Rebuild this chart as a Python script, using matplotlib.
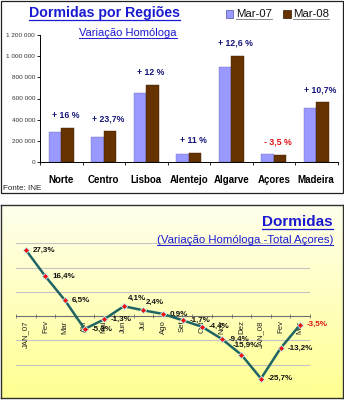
import numpy as np
import matplotlib
matplotlib.use('Agg')
import matplotlib.pyplot as plt
from matplotlib.patches import Rectangle
from matplotlib.lines import Line2D
from matplotlib.ticker import FuncFormatter, FixedLocator

plt.rcParams.update({
    "font.family": ["Liberation Sans", "DejaVu Sans"],
})

# dados - dormidas por regiões
regioes = ["Norte", "Centro", "Lisboa", "Alentejo", "Algarve", "Açores", "Madeira"]
mar07 = [282000, 241000, 648000, 78000, 893000, 75000, 514000]
mar08 = [326000, 294000, 727000, 88000, 1003000, 72000, 564000]
variacao = ["+ 16 %", "+ 23,7%", "+ 12 %", "+ 11 %", "+ 12,6 %", "- 3,5 %", "+ 10,7%"]

# dados - variação homóloga total Açores
meses = ["JAN_07", "Fev", "Mar", "Abr", "Mai", "Jun", "Jul", "Ago", "Set", "Out",
         "Nov", "Dez", "JAN_08", "Fev", "Mar"]
var_acores = [27.3, 16.4, 6.5, -5.3, -1.3, 4.1, 2.4, 0.9, -1.7, -4.4, -9.4, -15.9,
              -25.7, -13.2, -3.5]

W, H = 344, 400
AZUL = "#1A1AD0"
fig = plt.figure(figsize=(W / 100, H / 100), dpi=100)


def px(x, y):
    # pixel (origem em cima à esquerda) -> fração da figura
    return x / W, 1 - y / H


def underline(t, color, lw=0.8, dy=1.0):
    fig.canvas.draw()
    bb = t.get_window_extent()
    y = (bb.y0 + dy) / H
    fig.add_artist(Line2D([bb.x0 / W, bb.x1 / W], [y, y], color=color, lw=lw,
                          transform=fig.transFigure))


# ---------------- painel de cima ----------------
fig.add_artist(Rectangle(px(0.5, 193), 342 / W, 192.5 / H, transform=fig.transFigure,
                         fill=False, ec="#202020", lw=0.9))

ax = fig.add_axes([40 / W, 1 - 162.3 / H, 297.5 / W, 127.6 / H])
x = np.arange(len(regioes))
w = 0.29
ax.bar(x - w / 2, mar07, w, color="#9999FF", ec="#7070C0", lw=0.3, label="Mar-07")
ax.bar(x + w / 2, mar08, w, color="#663300", ec="#3A1C00", lw=0.3, label="Mar-08")
for i, lab in enumerate(variacao):
    top = max(mar07[i], mar08[i])
    col = "#E01010" if lab.startswith("-") else "#14147A"
    ax.annotate(lab, (i + 0.1, top), xytext=(0, 9), textcoords="offset points",
                ha="center", va="center", fontsize=6.3, fontweight="bold", color=col)

ax.set_xlim(-0.5, len(regioes) - 0.5)
ax.set_ylim(0, 1200000)
ax.set_yticks(np.arange(0, 1200001, 200000))
ax.yaxis.set_major_formatter(FuncFormatter(lambda v, p: f"{int(v):,}".replace(",", " ")))
ax.tick_params(axis="y", labelsize=4.6, labelcolor="#333333", length=2.5, width=0.6, pad=1)
ax.set_xticks(x)
ax.set_xticklabels(regioes, fontsize=7, fontweight="bold")
ax.tick_params(axis="x", length=0, pad=9)
ax.xaxis.set_minor_locator(FixedLocator(np.arange(-0.5, len(regioes), 1.0)))
ax.tick_params(axis="x", which="minor", length=2.5, width=0.6)
for s in ["top", "right"]:
    ax.spines[s].set_visible(False)
for s in ["left", "bottom"]:
    ax.spines[s].set_linewidth(0.7)

t1 = fig.text(*px(29, 13), "Dormidas por Regiões", fontsize=10.2, fontweight="bold",
              color=AZUL, ha="left", va="center")
underline(t1, AZUL, lw=0.9, dy=0.5)
t2 = fig.text(*px(79, 33), "Variação Homóloga", fontsize=8, color=AZUL,
              ha="left", va="center")
underline(t2, AZUL, lw=0.7, dy=0.5)

# legenda
for xq, cor, ec, nome in [(226, "#9999FF", "#5050A0", "Mar-07"),
                          (283, "#663300", "#301800", "Mar-08")]:
    fig.add_artist(Rectangle(px(xq, 18), 7.5 / W, 7.5 / H, transform=fig.transFigure,
                             fc=cor, ec=ec, lw=0.5))
    tl = fig.text(*px(xq + 10, 14), nome, fontsize=8.2, color="#111111",
                  ha="left", va="center")
    underline(tl, "#888888", lw=0.7, dy=0.3)

fig.text(*px(3, 189), "Fonte: INE", fontsize=5.8, color="#222222", ha="left", va="center")

# ---------------- painel de baixo ----------------
bg = fig.add_axes([1 / W, 1 - 398 / H, 341.5 / W, 193 / H], zorder=-1)
grad = np.linspace(0, 1, 256)[:, None]
cores = np.zeros((256, 1, 3))
cores[..., 0] = 1.0
cores[..., 1] = 1.0
cores[..., 2] = (0.93 - 0.36 * grad)
bg.imshow(cores, aspect="auto", extent=[0, 1, 0, 1], origin="upper")
bg.set_xticks([])
bg.set_yticks([])
for s in bg.spines.values():
    s.set_color("#303030")
    s.set_linewidth(1.0)

ax2 = fig.add_axes([16 / W, 1 - 389 / H, 294 / W, 145.7 / H])
ax2.patch.set_visible(False)
xi = np.arange(len(meses))
ax2.set_xlim(-0.5, len(meses) - 0.5)
ax2.set_ylim(-30, 30)
for g in [-30, -20, -10, 10, 20, 30]:
    ax2.axhline(g, color="#C4C4C4", lw=0.8, zorder=0)
ax2.plot(xi, var_acores, color="#1F6464", lw=1.8, zorder=3,
         marker="D", markersize=3.2, markerfacecolor="#F01010",
         markeredgecolor="#B8F0F0", markeredgewidth=0.6)

# deslocamentos das etiquetas (pontos)
desloc = {5: (3, 6), 6: (2, 6), 11: (-6, 7)}
for i, v in enumerate(var_acores):
    txt = f"{v:.1f}%".replace(".", ",")
    dx, dy = desloc.get(i, (5, 0))
    col = "#E01010" if i == len(var_acores) - 1 else "#111111"
    ax2.annotate(txt, (i, v), xytext=(dx, dy), textcoords="offset points",
                 ha="left", va="center", fontsize=5.8, fontweight="bold", color=col,
                 zorder=4)

for s in ["top", "right", "left"]:
    ax2.spines[s].set_visible(False)
ax2.spines["bottom"].set_position(("data", 0))
ax2.spines["bottom"].set_color("#707070")
ax2.spines["bottom"].set_linewidth(0.8)
ax2.set_yticks([])
ax2.set_xticks(xi)
ax2.set_xticklabels(meses, rotation=90, fontsize=5.6, color="#222222", va="top")
ax2.tick_params(axis="x", length=0, pad=3)
ax2.xaxis.set_minor_locator(FixedLocator(np.arange(-0.5, len(meses), 1.0)))
ax2.tick_params(axis="x", which="minor", length=3, width=0.6, direction="inout",
                color="#707070")

t3 = fig.text(*px(333, 222), "Dormidas", fontsize=11, fontweight="bold", color=AZUL,
              ha="right", va="center")
underline(t3, AZUL, lw=0.9, dy=0.5)
t4 = fig.text(*px(333, 240), "(Variação Homóloga -Total Açores)", fontsize=8.2,
              color=AZUL, ha="right", va="center")
underline(t4, AZUL, lw=0.7, dy=0.5)

fig.savefig("out.png", dpi=100, facecolor="white")
